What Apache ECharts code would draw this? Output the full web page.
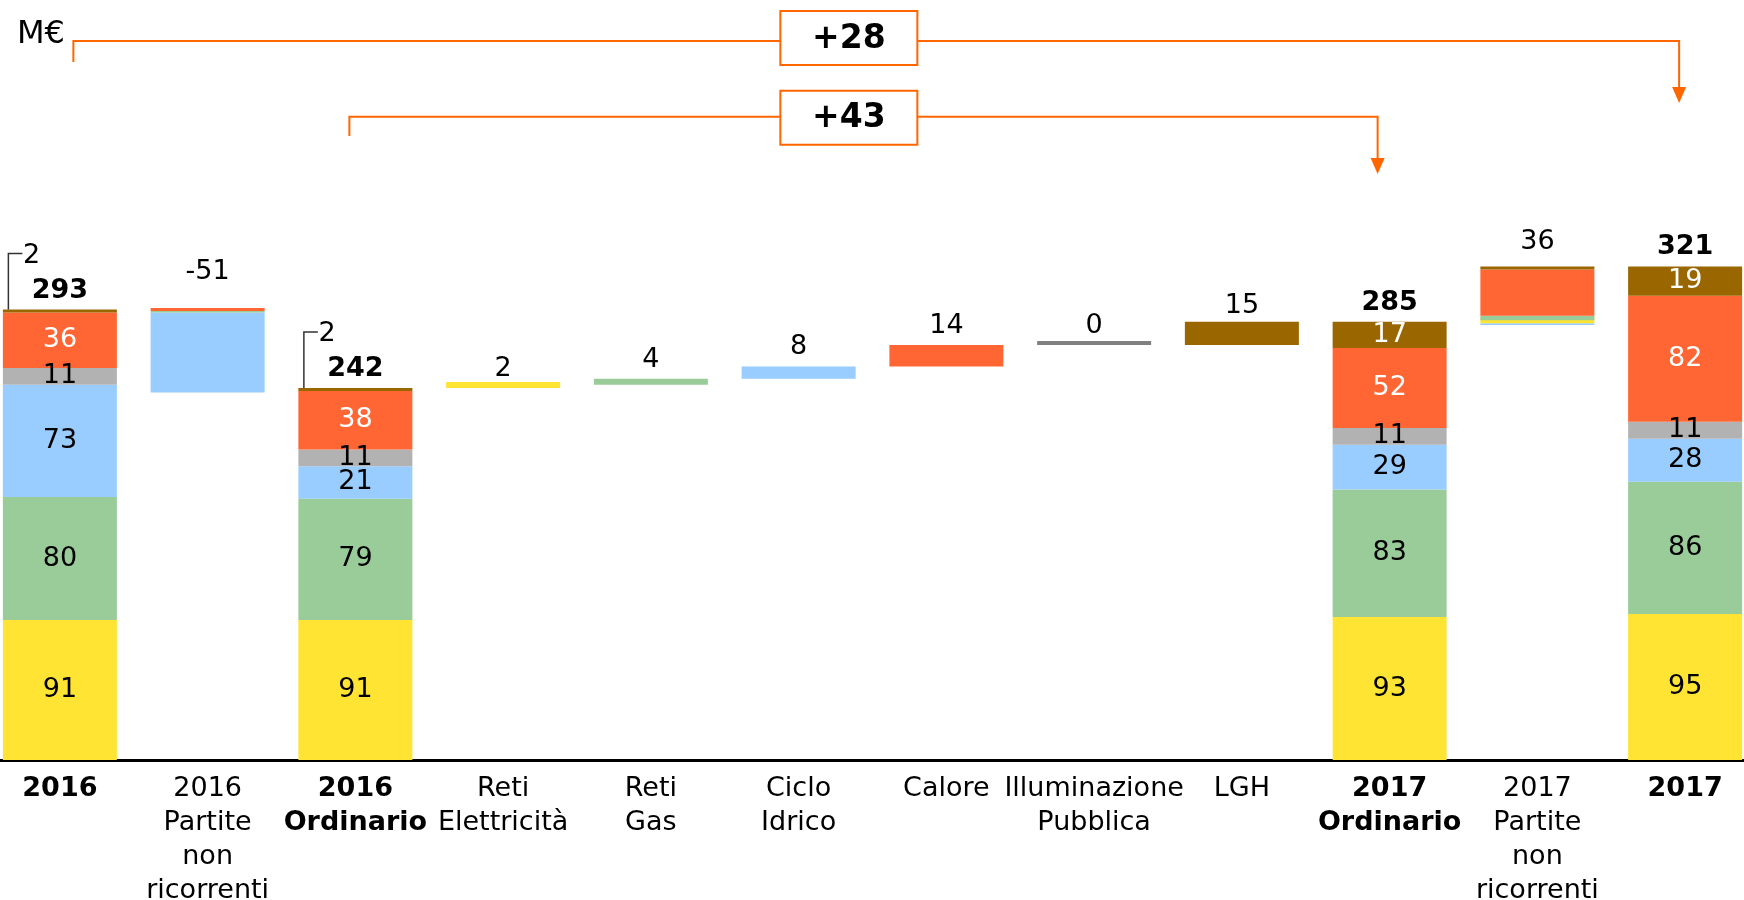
<!DOCTYPE html>
<html>
<head>
<meta charset="utf-8">
<script src="https://cdn.jsdelivr.net/npm/echarts@6/dist/echarts.min.js"></script>
<style>
html,body{margin:0;padding:0;background:#fff;overflow:hidden;width:1744px;height:900px;}
#chart{width:1773px;height:900px;margin-left:-14px;}
</style>
</head>
<body>
<div id="chart"></div>
<script>
// ---------- data ----------
const categories = ['2016', '2016\nPartite\nnon\nricorrenti', '2016\nOrdinario', 'Reti\nElettricità', 'Reti\nGas', 'Ciclo\nIdrico', 'Calore', 'Illuminazione\nPubblica', 'LGH', '2017\nOrdinario', '2017\nPartite\nnon\nricorrenti', '2017'];
const boldCats = [0, 2, 9, 11];
// invisible waterfall base
const baseVals = ['-', 239, '-', 242, 244, 248, 256, 270, 270, '-', 283, '-'];
// business segments
const blueLowVals = ['-', 52, '-', '-', '-', '-', '-', '-', '-', '-', 1, '-'];
const yellowVals = [91, '-', 91, 2, '-', '-', '-', '-', '-', 93, 2, 95];
const greenVals = [80, 1, 79, '-', 4, '-', '-', '-', '-', 83, 3, 86];
const blueVals = [73, '-', 21, '-', '-', 8, '-', '-', '-', 29, '-', 28];
const grayVals = [11, '-', 11, '-', '-', '-', '-', 0, '-', 11, '-', 11];
const orangeVals = [36, 2, 38, '-', '-', '-', 14, '-', '-', 52, 30, 82];
const brownVals = [2, '-', 2, '-', '-', '-', '-', '-', 15, 17, 2, 19];
const topLabels = ['293', '-51', '242', '2', '4', '8', '14', '0', '15', '285', '36', '321'];
const bridgeFrom = [0, 2];
const bridgeTo = [11, 9];
const bridgeText = ['+28', '+43'];
</script>
<script>
const FONT = 'DejaVu Sans';
const stacks = [baseVals, blueLowVals, yellowVals, greenVals, blueVals, grayVals, orangeVals, brownVals];
const tops = categories.map((c, i) => stacks.reduce((s, arr) => s + (typeof arr[i] === 'number' ? arr[i] : 0), 0));
// gap (px) between top of column and the bottom of its value label
const labelGap = {1: 28, 3: 8, 8: 8, 10: 16.5};

const chart = echarts.init(document.getElementById('chart'), null, {renderer: 'canvas'});

function segLabel(color) {
  return {
    show: true, position: 'inside', color: color, fontFamily: FONT, fontSize: 27,
    textBorderWidth: 0,
    formatter: p => (boldCats.includes(p.dataIndex) && p.value >= 5) ? String(p.value) : ''
  };
}
function barSeries(name, vals, color, labelColor, extra, itemOverrides) {
  return Object.assign({
    name: name, type: 'bar', stack: 'w', barWidth: 114,
    itemStyle: {color: color},
    label: labelColor ? segLabel(labelColor) : {show: false},
    data: vals.map((v, i) => (itemOverrides && itemOverrides[i]) ? Object.assign({value: v}, itemOverrides[i]) : v),
    silent: true
  }, extra || {});
}

const calloutData = boldCats.filter(i => typeof brownVals[i] === 'number' && brownVals[i] < 5)
  .map(i => [i, tops[i], brownVals[i]]);

const option = {
  animation: false,
  grid: {left: 0, right: 0, top: 22, bottom: 140, containLabel: false, outerBoundsMode: 'none'},
  xAxis: {
    type: 'category', data: categories,
    axisTick: {show: false},
    axisLine: {show: true, lineStyle: {color: '#000', width: 3}},
    axisLabel: {
      interval: 0, margin: 12, color: '#000', fontFamily: FONT, fontSize: 27, lineHeight: 34,
      formatter: (v, idx) => boldCats.includes(idx) ? v.split('\n').map(s => '{b|' + s + '}').join('\n') : v,
      rich: {b: {fontWeight: 'bold', fontFamily: FONT, fontSize: 27, lineHeight: 34, color: '#000'}}
    }
  },
  yAxis: {type: 'value', min: 0, max: 480, show: false, splitLine: {show: false}},
  series: [
    barSeries('base', baseVals, 'rgba(0,0,0,0)', null),
    barSeries('Ciclo Idrico (PNR)', blueLowVals, '#99CCFF', null),
    barSeries('Reti Elettricità', yellowVals, '#FFE433', '#000', {barMinHeight: 6}),
    barSeries('Reti Gas', greenVals, '#99CC99', '#000'),
    barSeries('Ciclo Idrico', blueVals, '#99CCFF', '#000'),
    barSeries('Illuminazione Pubblica', grayVals, '#B2B2B2', '#000', {barMinHeight: 4}, {7: {itemStyle: {color: '#808080'}}}),
    barSeries('Calore', orangeVals, '#FF6633', '#fff'),
    barSeries('LGH', brownVals, '#996600', '#fff'),
    {
      // value labels above each column
      type: 'custom', clip: false, silent: true, z: 5,
      data: categories.map((c, i) => [i, tops[i]]),
      renderItem: function (params, api) {
        const i = params.dataIndex;
        const p = api.coord([api.value(0), api.value(1)]);
        const gap = labelGap[i] !== undefined ? labelGap[i] : 11;
        return {
          type: 'text', x: p[0], y: p[1] - gap - 8,
          style: {text: topLabels[i], fontFamily: FONT, fontSize: 27,
            fontWeight: boldCats.includes(i) ? 'bold' : 'normal',
            fill: '#000', align: 'center', verticalAlign: 'middle'}
        };
      }
    },
    {
      // small-value callouts (LGH 2)
      type: 'custom', clip: false, silent: true, z: 6,
      data: calloutData,
      renderItem: function (params, api) {
        const p = api.coord([api.value(0), api.value(1)]);
        const x0 = p[0] - 57 + 5.5;
        const yTop = p[1] - 56;
        return {
          type: 'group',
          children: [
            {type: 'polyline', shape: {points: [[x0, p[1]], [x0, yTop], [x0 + 14, yTop]]},
              style: {stroke: '#333', lineWidth: 1.5, fill: null}},
            {type: 'text', x: x0 + 14.5, y: yTop + 2,
              style: {text: String(api.value(2)), fontFamily: FONT, fontSize: 27, fill: '#000', align: 'left', verticalAlign: 'middle'}}
          ]
        };
      }
    },
    {
      // bridge brackets +28 / +43
      type: 'custom', clip: false, silent: true, z: 7,
      data: bridgeFrom.map((f, i) => [f, bridgeTo[i]]),
      renderItem: function (params, api) {
        const i = params.dataIndex;
        const xs = api.coord([api.value(0), 0])[0];
        const xe = api.coord([api.value(1), 0])[0];
        const c5 = api.coord([5, 0])[0], c6 = api.coord([6, 0])[0];
        const bx = c5 + 0.34 * (c6 - c5);
        const cfg = i === 0
          ? {y: 41, dl: 13.5, dr: -6, tick: 62, tip: 103, by: 38}
          : {y: 116.7, dl: -6, dr: -12, tick: 136, tip: 174, by: 117.8};
        const lx = xs + cfg.dl, rx = xe + cfg.dr;
        const bw = 137, bh = 54;
        const col = '#FF6600';
        return {
          type: 'group',
          children: [
            {type: 'polyline', shape: {points: [[lx, cfg.tick], [lx, cfg.y], [rx, cfg.y], [rx, cfg.tip - 14]]},
              style: {stroke: col, lineWidth: 2, fill: null}},
            {type: 'polygon', shape: {points: [[rx - 7, cfg.tip - 16], [rx + 7, cfg.tip - 16], [rx, cfg.tip]]},
              style: {fill: col}},
            {type: 'rect', shape: {x: bx - bw / 2, y: cfg.by - bh / 2, width: bw, height: bh},
              style: {fill: '#fff', stroke: col, lineWidth: 2}},
            {type: 'text', x: bx, y: cfg.by + 1,
              style: {text: bridgeText[i], fontFamily: FONT, fontWeight: 'bold', fontSize: 33, fill: '#000', align: 'center', verticalAlign: 'middle'}}
          ]
        };
      }
    }
  ],
  graphic: [
    {type: 'text', left: 31, top: 19, style: {text: 'M€', fontFamily: FONT, fontSize: 32, fill: '#000'}}
  ]
};
chart.setOption(option);
</script>
</body>
</html>
